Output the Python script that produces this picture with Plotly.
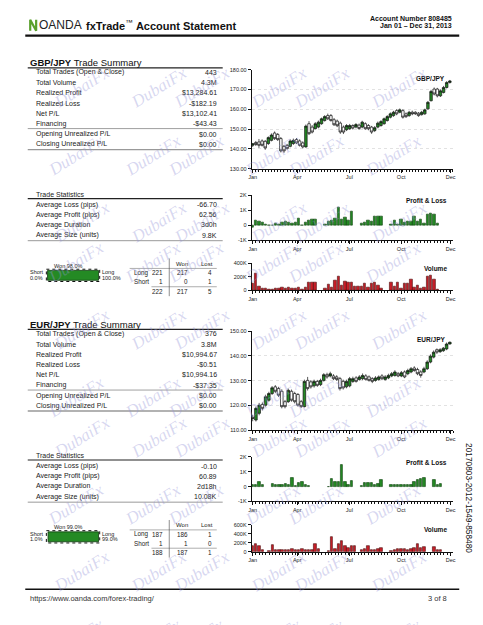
import plotly.graph_objects as go

# ---------------- DATA ----------------
MONTHS = ["Jan", "Apr", "Jul", "Oct", "Dec"]

gbp_open  = [141.8,143.2,143.5,144.0,143.8,142.7,144.3,148.0,147.3,145.2,141.3,141.8,141.3,142.7,144.7,144.0,143.0,141.0,152.7,151.0,150.2,151.0,152.7,154.3,156.8,156.8,154.7,154.0,153.0,151.0,149.7,150.2,151.8,151.0,152.0,151.0,152.7,151.8,151.0,149.3,151.0,151.8,152.7,154.3,156.0,156.8,159.3,158.5,159.3,157.7,156.8,158.5,158.5,158.0,157.3,157.7,160.2,164.3,170.2,170.2,166.8,168.5,171.0,173.5]
gbp_high  = [143.0,144.0,145.0,144.8,144.5,146.3,147.8,148.8,148.0,146.0,142.0,142.5,144.8,145.2,145.5,144.8,143.8,152.3,154.0,152.0,153.5,154.3,155.8,157.0,157.8,157.6,155.6,154.8,153.8,151.8,152.5,152.6,152.4,153.0,152.8,154.2,153.4,152.5,151.6,151.5,153.8,154.5,155.8,157.0,158.4,159.2,160.0,160.4,160.0,158.4,159.2,159.3,159.0,158.6,159.2,160.3,164.2,169.8,171.0,170.8,170.0,171.8,174.2,174.8]
gbp_low   = [141.0,141.5,140.5,141.2,139.5,142.0,143.8,144.5,144.0,138.2,138.0,139.6,140.8,142.0,142.5,141.2,140.3,140.6,147.0,147.8,149.8,150.4,152.2,153.8,154.6,153.8,151.6,151.0,147.6,147.5,149.0,149.6,149.8,150.4,149.6,150.4,149.6,149.4,147.6,148.5,150.4,151.2,152.2,153.8,155.4,156.2,157.0,158.0,155.3,155.6,156.2,157.0,157.2,156.2,156.8,157.2,159.8,164.0,167.0,166.0,166.2,168.0,170.5,173.0]
gbp_close = [142.6,142.2,141.8,141.8,140.5,145.7,147.0,145.2,144.7,139.0,139.0,140.2,144.0,144.3,143.0,141.8,141.0,151.5,147.7,148.5,152.7,153.5,155.2,156.3,155.2,154.3,152.2,151.7,148.5,148.5,151.8,151.8,150.5,152.3,150.3,153.5,150.2,150.2,148.5,150.7,153.0,153.8,155.2,156.3,157.7,158.5,157.7,159.7,156.0,156.3,158.5,157.7,157.7,156.8,158.5,159.7,163.5,169.0,167.7,166.8,169.3,171.0,173.5,174.3]

eur_open  = [115.2,114.1,116.8,120.4,120.1,122.1,124.8,127.5,126.8,125.7,121.5,121.5,125.7,124.8,124.4,121.5,119.5,130.1,129.5,127.9,129.7,128.4,130.1,132.4,131.9,131.9,131.5,130.8,129.7,127.5,127.9,129.7,131.1,130.5,130.8,131.9,131.5,130.8,130.1,130.5,131.9,130.5,131.1,131.9,132.1,132.8,131.9,133.5,132.8,133.5,135.1,134.5,133.5,133.5,134.8,137.5,139.5,142.5,141.7,142.1,142.8,144.8]
eur_high  = [116.2,119.5,121.0,121.2,124.3,125.5,127.8,128.2,127.5,126.5,122.2,126.8,126.4,125.5,125.0,122.2,130.4,131.5,130.2,130.4,130.3,130.8,133.0,133.2,133.6,132.6,132.2,131.5,130.4,130.4,131.5,131.6,131.8,132.2,132.9,132.6,132.1,131.4,131.8,132.1,132.6,132.2,132.8,133.5,134.2,133.5,133.9,134.1,134.8,135.5,135.8,135.2,134.2,135.6,138.2,140.6,142.2,143.0,143.1,143.6,145.4,145.8]
eur_low   = [113.6,113.5,116.0,118.0,119.5,121.5,124.2,125.0,123.4,118.8,118.8,121.0,121.5,120.8,119.5,119.0,119.2,126.0,126.8,127.2,127.5,127.8,129.6,130.8,131.3,130.2,129.9,126.0,126.4,126.9,127.3,129.1,129.2,130.0,130.2,130.0,129.6,129.0,129.6,130.0,130.2,130.0,130.6,131.4,131.6,131.4,131.4,131.0,132.2,133.0,133.6,132.2,131.2,133.0,134.3,137.0,139.0,140.8,141.2,141.6,142.3,144.6]
eur_close = [114.8,118.8,120.1,118.8,123.5,124.8,127.1,125.7,124.1,119.5,119.5,126.1,122.1,121.5,120.1,119.5,129.7,126.8,127.5,129.7,128.1,130.1,132.4,131.5,132.8,130.8,130.5,126.8,127.1,129.7,130.8,130.8,129.7,131.5,132.1,130.5,130.1,129.7,131.1,131.5,130.8,131.5,132.1,132.8,133.5,131.9,133.2,131.5,134.1,134.8,134.1,132.8,132.1,134.8,137.5,139.9,141.5,141.5,142.5,143.1,144.8,145.5]

gbp_pnl = [-150,330,250,180,20,10,10,130,60,150,220,150,110,150,470,-20,200,330,400,400,None,None,
           60,250,330,470,1180,400,510,330,890,None,None,130,180,350,220,555,555,555,None,None,
           60,330,60,400,180,250,250,555,250,400,130,730,780,730,110,None]
gbp_vol = [105,257,57,33,24,10,10,24,24,38,33,48,33,33,48,14,38,110,110,110,None,None,
           24,86,48,143,200,67,128,114,114,57,57,57,95,48,95,114,71,24,None,None,
           114,57,119,33,95,95,157,48,76,19,40,200,219,162,10,None]
eur_pnl = [116,116,350,140,None,None,160,116,116,116,186,116,580,20,256,300,116,60,None,None,None,None,None,
           10,490,350,350,1465,350,116,400,None,None,20,230,230,230,140,186,440,None,None,
           116,116,116,116,116,116,116,300,420,535,580,None,None,440,116,160]
eur_vol = [123,185,130,30,None,15,146,46,30,30,46,38,69,38,46,61,38,30,46,170,69,None,None,
           15,323,69,170,230,123,77,123,130,None,38,69,130,46,46,69,92,None,None,
           15,38,69,69,69,38,69,92,170,92,108,None,None,108,38,38]

sum_labels = ["Total Trades (Open & Close)", "Total Volume", "Realized Profit", "Realized Loss",
              "Net P/L", "Financing", "Opening Unrealized P/L", "Closing Unrealized P/L"]
gbp_sum = ["443", "4.3M", "$13,284.61", "-$182.19", "$13,102.41", "-$43.43", "$0.00", "$0.00"]
eur_sum = ["376", "3.8M", "$10,994.67", "-$0.51", "$10,994.16", "-$37.35", "$0.00", "$0.00"]
stat_labels = ["Average Loss (pips)", "Average Profit (pips)", "Average Duration", "Average Size (units)"]
gbp_stats = ["-66.70", "62.56", "3d0h", "9.8K"]
eur_stats = ["-0.10", "60.89", "2d18h", "10.08K"]
gbp_wl = [["Long", "221", "217", "4"], ["Short", "1", "0", "1"], ["", "222", "217", "5"]]
eur_wl = [["Long", "187", "186", "1"], ["Short", "1", "1", "0"], ["", "188", "187", "1"]]
gbp_pct = {"won": "98.0%", "short": "0.0%", "long": "100.0%", "long_share": 100.0}
eur_pct = {"won": "99.0%", "short": "1.0%", "long": "99.0%", "long_share": 99.0}

# ---------------- LAYOUT HELPERS ----------------
W, H = 483, 625
FONT = "Liberation Sans"
def X(p): return p / W
def Y(p): return 1 - p / H

ann, shp = [], []
def text(x, y, s, size=7, anchor="left", bold=False, color="#1c1c1c", family=FONT, angle=0, yanchor="middle"):
    if not s:
        return
    ann.append(dict(x=X(x), y=Y(y), xref="paper", yref="paper", text=(f"<b>{s}</b>" if bold else s),
                    showarrow=False, xanchor=anchor, yanchor=yanchor, textangle=angle,
                    font=dict(size=size, color=color, family=family), borderpad=0))
def hline(x0, x1, y, color="#222", width=1, dash="solid"):
    shp.append(dict(type="line", xref="paper", yref="paper", x0=X(x0), x1=X(x1), y0=Y(y), y1=Y(y),
                    line=dict(color=color, width=width, dash=dash)))
def vline(x, y0, y1, color="#444", width=0.6):
    shp.append(dict(type="line", xref="paper", yref="paper", x0=X(x), x1=X(x), y0=Y(y0), y1=Y(y1),
                    line=dict(color=color, width=width)))
def rect(x0, x1, y0, y1, fill, line_color, lw=1, dash="solid"):
    shp.append(dict(type="rect", xref="paper", yref="paper", x0=X(x0), x1=X(x1), y0=Y(y0), y1=Y(y1),
                    fillcolor=fill, line=dict(color=line_color, width=lw, dash=dash)))

fig = go.Figure()

# ---------------- HEADER / FOOTER ----------------
shp.append(dict(type="path", xref="paper", yref="paper",
                path=f"M {X(27.5)},{Y(28)} L {X(27.5)},{Y(17)} L {X(33.5)},{Y(28)} L {X(33.5)},{Y(17)}",
                line=dict(color="#5aa02c", width=2.2)))
text(35, 22.5, "OANDA", size=12, color="#222", family="Liberation Sans")
text(83, 22.5, "<b>fxTrade</b><sup>™</sup> <b>Account Statement</b>", size=11, color="#111")
text(455, 15.5, "Account Number 808485", size=7, anchor="right", bold=True, color="#111")
text(455, 23.5, "Jan 01 – Dec 31, 2013", size=7, anchor="right", bold=True, color="#111")
hline(22.5, 461, 33, "#111", 2.2)
hline(22.5, 461, 592, "#111", 1.6)
text(26.5, 601, "https://www.oanda.com/forex-trading/", size=7.5, color="#333")
text(450, 601, "3 of 8", size=7.5, anchor="right", color="#333")
text(471, 500, "20170803-2012-1549-858480", size=8.3, color="#111", angle=90, anchor="center")

MONTH_PX = [252.3, 297.3, 350.0, 402.3, 452.3]
XL, XR = 251.3, 455.0

def xaxis(anchor, first_px, step_px):
    r = [(XL - first_px) / step_px, (XR - first_px) / step_px]
    tv = [(p - first_px) / step_px for p in MONTH_PX]
    return dict(domain=[X(XL), X(XR)], range=r, anchor=anchor, tickmode="array", tickvals=tv, ticktext=MONTHS,
                showline=True, linecolor="#111", linewidth=1, ticks="outside", ticklen=3, tickcolor="#111",
                tickfont=dict(size=5.5, color="#222", family=FONT), showgrid=False, zeroline=False,
                minor=dict(ticks="outside", tickmode="linear", tick0=0, dtick=1, ticklen=2, tickcolor="#111"),
                rangeslider=dict(visible=False), fixedrange=True)

def yaxis(anchor, top_px, bot_px, rng, tv, tt, grid=False):
    return dict(domain=[Y(bot_px), Y(top_px)], range=rng, anchor=anchor, tickmode="array", tickvals=tv, ticktext=tt,
                showline=True, linecolor="#111", linewidth=1, ticks="outside", ticklen=3, tickcolor="#111",
                tickfont=dict(size=5.5, color="#222", family=FONT), showgrid=grid, gridcolor="#e2e2e2",
                griddash="dot", gridwidth=0.6, zeroline=False, fixedrange=True)

GREEN = "#248a24"
layout_axes = {}

def section(base, pair, opn, hi, lo, cls, pnl, vol, summ, stats, wl, pct, axn, price_rng, price_ticks, vol_max, vol_ticks):
    # ---- trade summary table
    text(26, base + 60.5, f"<b>{pair}</b> Trade Summary", size=9.5, color="#111")
    hline(25, 222, base + 65.5, "#222", 1.3)
    for k, (lab, val) in enumerate(zip(sum_labels, summ)):
        yy = base + 70 + 10.4 * k
        text(32, yy, lab, size=7, color="#222")
        text(217, yy, val, size=7, anchor="right", color="#222")
    hline(25, 222, base + 126.8, "#888", 0.8)
    hline(25, 222, base + 148, "#999", 1.4)
    # ---- trade statistics
    text(32, base + 193, "Trade Statistics", size=7, color="#222")
    hline(25, 222, base + 197.5, "#222", 1.1)
    for k, (lab, val) in enumerate(zip(stat_labels, stats)):
        yy = base + 203.5 + 10.3 * k
        text(32, yy, lab, size=7, color="#222")
        text(217, yy, val, size=7, anchor="right", color="#222")
    hline(25, 222, base + 240, "#999", 1.0)
    # ---- won bar
    text(66, base + 265.5, "Won " + pct["won"], size=5.5, anchor="center", color="#222")
    bx0, bx1 = 45.0, 96.5
    rect(bx0 - 1.2, bx1 + 1.2, base + 268.8, base + 281.2, "rgba(0,0,0,0)", "#111", 1, "dot")
    rect(bx0 + (bx1 - bx0) * (1 - pct["long_share"] / 100), bx1, base + 270, base + 280, GREEN, "#0c3d0c", 0.8)
    text(26, base + 272, "Short", size=5.5, color="#222")
    text(26, base + 277.5, pct["short"], size=5.5, color="#222")
    text(99, base + 272, "Long", size=5.5, color="#222")
    text(99, base + 277.5, pct["long"], size=5.5, color="#222")
    # ---- won/lost table
    text(188, base + 263.5, "Won", size=6, anchor="right", color="#222")
    text(213, base + 263.5, "Lost", size=6, anchor="right", color="#222")
    hline(128, 216, base + 268, "#777", 0.6)
    row_y = [272.5, 281.5, 291]
    for r, row in enumerate(wl):
        yy = base + row_y[r]
        text(131, yy, row[0], size=6.3, color="#222")
        text(163, yy, row[1], size=6.3, anchor="right", color="#222")
        text(188, yy, row[2], size=6.3, anchor="right", color="#222")
        text(212, yy, row[3], size=6.3, anchor="right", color="#222")
    hline(150, 216, base + 286.5, "#777", 0.6)
    vline(168, base + 258, base + 296)

    # ---- charts
    a1, a2, a3 = axn
    fig.add_trace(go.Candlestick(x=list(range(len(opn))), open=opn, high=hi, low=lo, close=cls,
                                 xaxis=f"x{a1}", yaxis=f"y{a1}", whiskerwidth=0,
                                 increasing=dict(fillcolor=GREEN, line=dict(color="#111", width=0.7)),
                                 decreasing=dict(fillcolor="#ffffff", line=dict(color="#111", width=0.7)),
                                 showlegend=False, hoverinfo="skip"))
    fig.add_trace(go.Bar(x=list(range(len(pnl))), y=pnl, xaxis=f"x{a2}", yaxis=f"y{a2}", width=0.72,
                         marker=dict(color=GREEN, line=dict(color="#0c3d0c", width=0.6)), showlegend=False))
    fig.add_trace(go.Bar(x=list(range(len(vol))), y=[None if v is None else v * 1000 for v in vol],
                         xaxis=f"x{a3}", yaxis=f"y{a3}", width=0.72,
                         marker=dict(color="#c81e28", line=dict(color="#4a0a0a", width=0.6)), showlegend=False))
    n_c = len(opn)
    cstep = (451.5 - 252.3) / (n_c - 1)
    layout_axes[f"xaxis{a1}"] = xaxis(f"y{a1}", 252.3, cstep)
    layout_axes[f"yaxis{a1}"] = yaxis(f"x{a1}", base + 67.3, base + 167.3, price_rng, price_ticks,
                                      [f"{v:.2f}" for v in price_ticks], grid=True)
    layout_axes[f"xaxis{a2}"] = xaxis(f"y{a2}", 252.3, 3.333)
    layout_axes[f"yaxis{a2}"] = yaxis(f"x{a2}", base + 194.3, base + 239.3, [-1000, 2000],
                                      [-1000, 0, 1000, 2000], ["-1K", "0", "1K", "2K"])
    layout_axes[f"xaxis{a3}"] = xaxis(f"y{a3}", 252.3, 3.333)
    layout_axes[f"yaxis{a3}"] = yaxis(f"x{a3}", base + 263, base + 290, [0, vol_max], vol_ticks,
                                      ["0" if v == 0 else f"{v // 1000}K" for v in vol_ticks])
    text(448, base + 76, pair, size=6.5, anchor="right", bold=True, color="#111")
    text(450, base + 199.5, "Profit &amp; Loss", size=6.5, anchor="right", bold=True, color="#111")
    text(450, base + 268, "Volume", size=6.5, anchor="right", bold=True, color="#111")

section(0, "GBP/JPY", gbp_open, gbp_high, gbp_low, gbp_close, gbp_pnl, gbp_vol, gbp_sum, gbp_stats,
        gbp_wl, gbp_pct, (1, 2, 3), [130, 180], [130, 140, 150, 160, 170, 180], 400000, [0, 200000, 400000])
section(264, "EUR/JPY", eur_open, eur_high, eur_low, eur_close, eur_pnl, eur_vol, eur_sum, eur_stats,
        eur_wl, eur_pct, (4, 5, 6), [110, 150], [110, 120, 130, 140, 150], 600000, [0, 200000, 400000, 600000])

# ---------------- WATERMARKS ----------------
for m in range(10):
    for k in range(6):
        cx = 45 + 78 * k - 6 * (m % 2)
        cy = 58 + 68 * m
        ann.append(dict(x=X(cx), y=Y(cy), xref="paper", yref="paper", text="DubaiFx", showarrow=False,
                        textangle=-32, font=dict(size=17, color="rgba(150,150,215,0.38)",
                                                 family="Liberation Serif", style="italic")))

fig.update_layout(width=W, height=H, margin=dict(l=0, r=0, t=0, b=0), paper_bgcolor="white",
                  plot_bgcolor="rgba(0,0,0,0)", showlegend=False, annotations=ann, shapes=shp,
                  boxgap=0.2, boxgroupgap=0, bargap=0, **layout_axes)
fig.write_html("out.html")
